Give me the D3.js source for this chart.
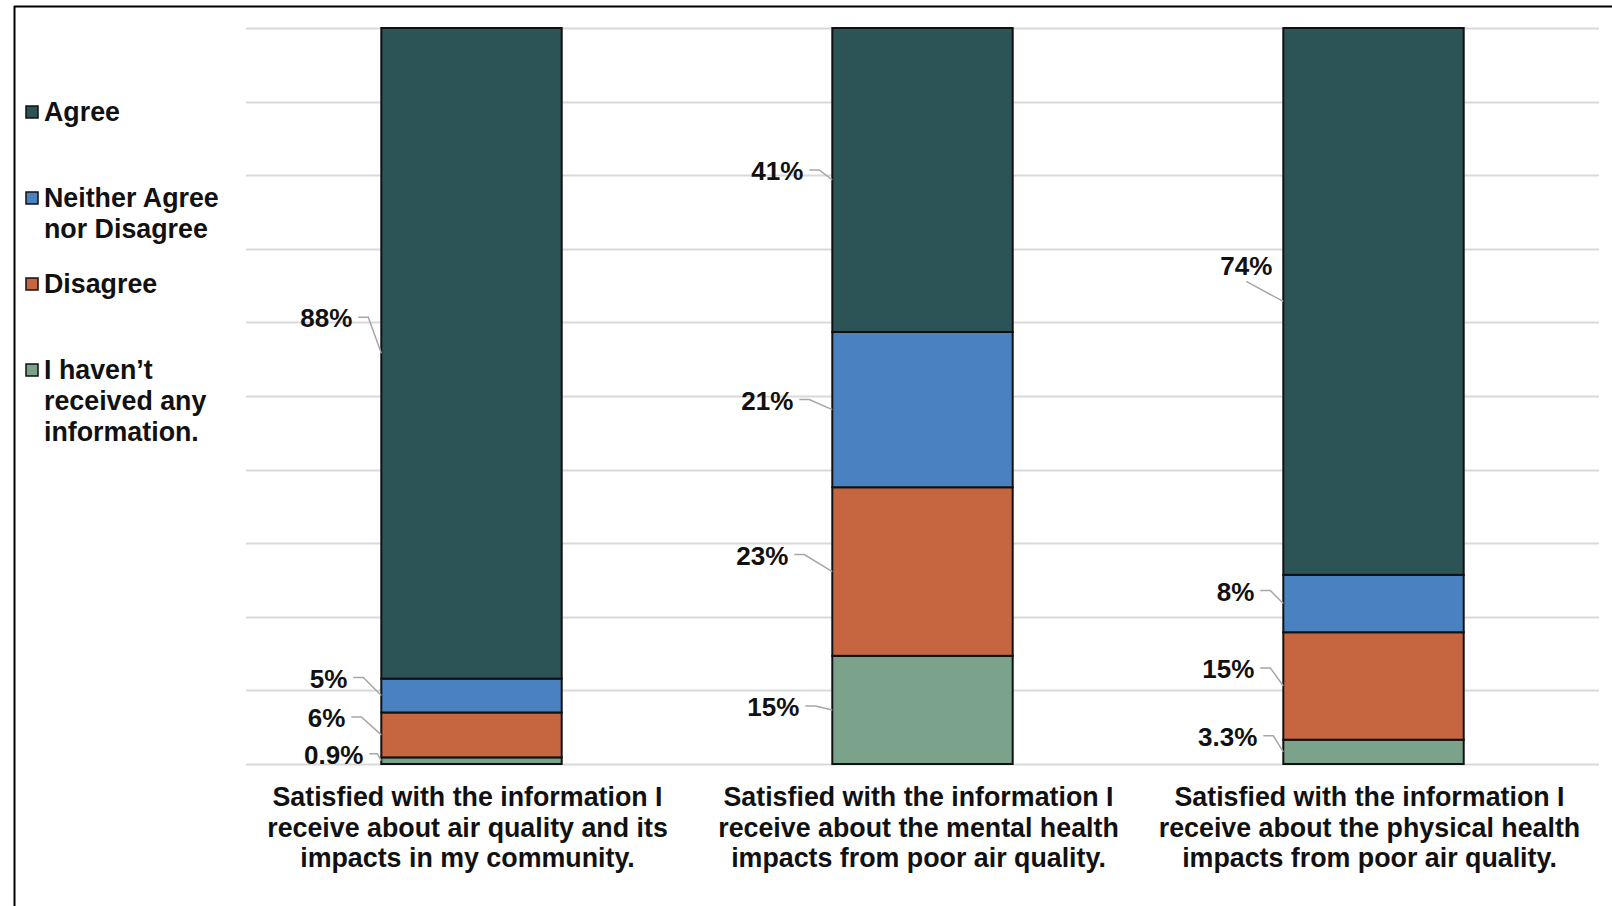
<!DOCTYPE html>
<html>
<head>
<meta charset="utf-8">
<script src="https://cdn.jsdelivr.net/npm/d3@7"></script>
<style>
  body { margin: 0; background: #fff; }
  text { font-family: "Liberation Sans", Arial, sans-serif; font-weight: bold; fill: #111; }
</style>
</head>
<body>
<svg id="chart" width="1612" height="906"></svg>
<script>
// data
var categories = [
  "Satisfied with the information I\nreceive about air quality and its\nimpacts in my community.",
  "Satisfied with the information I\nreceive about the mental health\nimpacts from poor air quality.",
  "Satisfied with the information I\nreceive about the physical health\nimpacts from poor air quality."
];
var legendLines = [["Agree"], ["Neither Agree", "nor Disagree"], ["Disagree"], ["I haven\u2019t", "received any", "information."]];
// shares (percent), labels round them like the original
var noInfo   = [0.9, 14.7, 3.3];
var disagree = [6.1, 22.9, 14.6];
var neither  = [4.6, 21.1, 7.8];
var agree    = [88.4, 41.3, 74.3];
var colors = ["#7ba38b", "#c66641", "#4a81c1", "#2c5355"];

// hand placed label nudges (px), like the moved labels in the original
var labelGap = [[18, 36, 34, 29], [33, 44, 39, 29], [26, 29, 29, 11]];
var labelDy  = [[-6, -17, -17, -35], [-3, -16, -9, -9], [-15, -17, -12, -36]];

function fmt(v){ return (v < 4 ? v.toFixed(1) : Math.round(v)) + "%"; }

var svg = d3.select("#chart");

var rows = categories.map(function(c, i){
  return {cat: c, s0: noInfo[i], s1: disagree[i], s2: neither[i], s3: agree[i]};
});
var keys = ["s0", "s1", "s2", "s3"];
var stacked = d3.stack().keys(keys).offset(d3.stackOffsetExpand)(rows);

var x = d3.scaleBand().domain(categories).range([246, 1599]).paddingInner(0).paddingOuter(0);
var barW = x.bandwidth() * 0.4;
var y = d3.scaleLinear().domain([0, 1]).range([764, 28]);

// frame
svg.append("line").attr("x1", 14).attr("x2", 1612).attr("y1", 6.5).attr("y2", 6.5)
  .attr("stroke", "#000").attr("stroke-width", 2);
svg.append("line").attr("x1", 14.5).attr("x2", 14.5).attr("y1", 6).attr("y2", 906)
  .attr("stroke", "#000").attr("stroke-width", 2);

// gridlines
svg.append("g").selectAll("line")
  .data(d3.range(0, 11).map(function(d){ return d / 10; }))
  .enter().append("line")
  .attr("x1", 246).attr("x2", 1599)
  .attr("y1", function(d){ return Math.round(y(d)) + 0.5; })
  .attr("y2", function(d){ return Math.round(y(d)) + 0.5; })
  .attr("stroke", "#d9d9d9").attr("stroke-width", 2);

// bars
var layers = svg.append("g").selectAll("g")
  .data(stacked).enter().append("g")
  .attr("fill", function(d, i){ return colors[i]; });

layers.selectAll("rect")
  .data(function(d){ return d; })
  .enter().append("rect")
  .attr("x", function(d){ return x(d.data.cat) + (x.bandwidth() - barW) / 2; })
  .attr("y", function(d){ return y(d[1]); })
  .attr("width", barW)
  .attr("height", function(d){ return y(d[0]) - y(d[1]); })
  .attr("stroke", "#111").attr("stroke-width", 2);

// data labels with leader lines
var lab = svg.append("g");
stacked.forEach(function(layer, si){
  layer.forEach(function(d, ci){
    var val = [noInfo, disagree, neither, agree][si][ci];
    var left = x(d.data.cat) + (x.bandwidth() - barW) / 2;
    var mid = y((d[0] + d[1]) / 2);
    var tx = left - labelGap[ci][si];
    var ty = mid + labelDy[ci][si];
    lab.append("text")
      .attr("x", tx).attr("y", ty)
      .attr("dy", "0.35em")
      .attr("text-anchor", "end")
      .style("font-size", "26px")
      .text(fmt(val));
    var p;
    if (labelGap[ci][si] < 15) {
      p = "M" + (tx - 26) + "," + (ty + 16) + "L" + left + "," + mid;
    } else {
      var sx = tx + 6;
      var ex = Math.min(sx + 10, left - 4);
      p = "M" + sx + "," + (ty - 1) + "H" + ex + "L" + left + "," + mid;
    }
    lab.append("path").attr("d", p)
      .attr("fill", "none").attr("stroke", "#a6a6a6").attr("stroke-width", 1.5);
  });
});

// category labels
svg.append("g").selectAll("text")
  .data(categories).enter().append("text")
  .attr("text-anchor", "middle")
  .attr("x", function(d){ return x(d) + x.bandwidth() / 2 - 4; })
  .attr("y", 806)
  .style("font-size", "26.8px")
  .each(function(d){
    var t = d3.select(this);
    d.split("\n").forEach(function(line, k){
      t.append("tspan").attr("x", t.attr("x")).attr("dy", k === 0 ? 0 : 30.5).text(line);
    });
  });

// legend
var legend = svg.append("g");
legendLines.forEach(function(lines, i){
  var ly = 112 + i * 86;
  legend.append("rect")
    .attr("x", 26).attr("y", ly - 6).attr("width", 12).attr("height", 12)
    .attr("fill", colors[3 - i]).attr("stroke", "#111").attr("stroke-width", 1.5);
  var t = legend.append("text").attr("x", 44).attr("y", ly)
    .style("font-size", "26.8px");
  lines.forEach(function(line, k){
    t.append("tspan").attr("x", 44).attr("dy", k === 0 ? "0.35em" : 31).text(line);
  });
});
</script>
</body>
</html>
